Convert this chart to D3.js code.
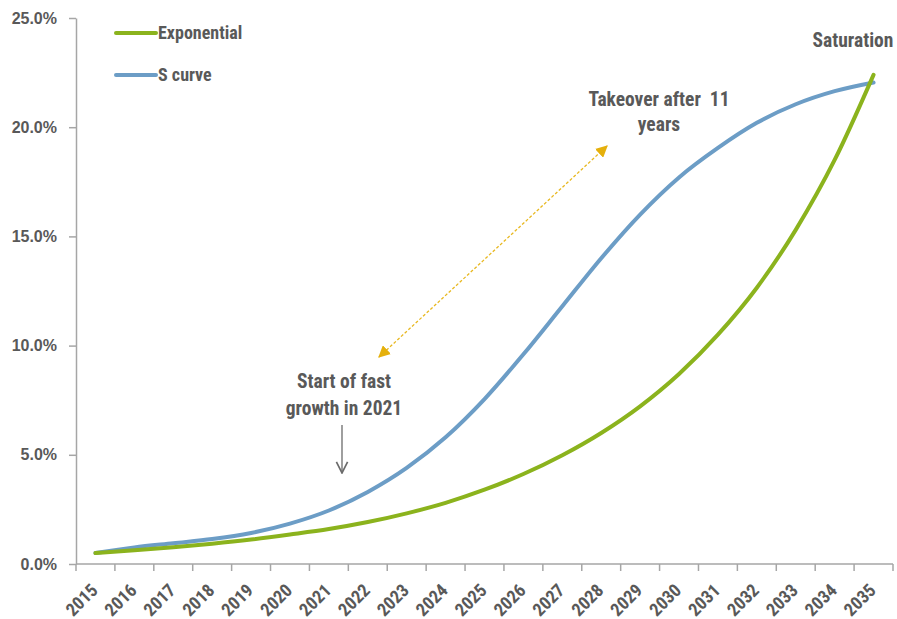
<!DOCTYPE html>
<html>
<head>
<meta charset="utf-8">
<script src="https://cdn.jsdelivr.net/npm/d3@7"></script>
<style>
  html, body { margin: 0; padding: 0; background: #fff; }
  svg { display: block; }
  text { font-family: "Liberation Sans Narrow", "Roboto Condensed", "DejaVu Sans Condensed", sans-serif; font-weight: bold; fill: #595959; }
</style>
</head>
<body>
<svg id="chart" width="897" height="619"></svg>
<script>
// Adoption share by year, two growth scenarios (percent)
const years = ["2015","2016","2017","2018","2019","2020","2021","2022","2023","2024","2025",
               "2026","2027","2028","2029","2030","2031","2032","2033","2034","2035"];
const exponential = [0.5, 0.63, 0.77, 0.93, 1.12, 1.35, 1.6, 1.92, 2.32, 2.8, 3.4,
                     4.12, 4.98, 6.0, 7.22, 8.7, 10.5, 12.65, 15.3, 18.5, 22.4];
const sCurve = [0.5, 0.76, 0.95, 1.14, 1.42, 1.85, 2.45, 3.3, 4.4, 5.8, 7.55,
                9.6, 11.8, 14.0, 16.0, 17.7, 19.05, 20.2, 21.05, 21.65, 22.05];
const yTicks = [0, 5, 10, 15, 20, 25];

const svg = d3.select("#chart");
const plotLeft = 76, plotRight = 893, plotTop = 18, plotBottom = 564;

const x = d3.scaleBand().domain(years).range([plotLeft, plotRight]).paddingInner(0).paddingOuter(0);
const y = d3.scaleLinear().domain([0, 25]).range([plotBottom, plotTop]);
const cx = d => x(d) + x.bandwidth() / 2;

const axisColor = "#a6a6a6";

// Y axis
const yAxis = svg.append("g").attr("transform", `translate(${plotLeft},0)`)
  .call(d3.axisLeft(y).tickValues(yTicks).tickSize(7).tickSizeOuter(0).tickFormat(d => d3.format(".1f")(d) + "%"));
yAxis.select(".domain").attr("stroke", axisColor).attr("stroke-width", 1.5);
yAxis.selectAll(".tick line").attr("stroke", axisColor).attr("stroke-width", 1.5);
yAxis.selectAll(".tick text").attr("x", -19).attr("font-size", 16)
  .style("font-family", "'Liberation Sans Narrow', sans-serif").style("font-weight", "bold").attr("fill", "#595959");

// X axis: ticks between categories
const xAxisG = svg.append("g").attr("transform", `translate(0,${plotBottom})`);
xAxisG.append("line").attr("x1", plotLeft).attr("x2", plotRight).attr("stroke", axisColor).attr("stroke-width", 1.5);
const boundaries = years.map(d => x(d)).concat([plotRight]);
xAxisG.selectAll("line.tk").data(boundaries).join("line").attr("class", "tk")
  .attr("x1", d => d).attr("x2", d => d).attr("y1", 0).attr("y2", 7)
  .attr("stroke", axisColor).attr("stroke-width", 1.5);
xAxisG.selectAll("text").data(years).join("text")
  .attr("transform", d => `translate(${cx(d) - 1},${23}) rotate(-45)`)
  .attr("text-anchor", "end").attr("dy", "0.35em")
  .attr("font-size", 18).text(d => d);

// Series lines (smoothed)
const line = vals => d3.line().x((d, i) => cx(years[i])).y(d => y(d)).curve(d3.curveMonotoneX)(vals);
const green = "#8bb31d", blue = "#6c9dc6";
svg.append("path").attr("d", line(sCurve)).attr("fill", "none").attr("stroke", blue).attr("stroke-width", 4).attr("stroke-linecap", "round");
svg.append("path").attr("d", line(exponential)).attr("fill", "none").attr("stroke", green).attr("stroke-width", 4).attr("stroke-linecap", "round");

// Legend
const legend = [{name: "Exponential", color: green, y: 33}, {name: "S curve", color: blue, y: 75}];
legend.forEach(l => {
  svg.append("line").attr("x1", 116).attr("x2", 156).attr("y1", l.y).attr("y2", l.y)
    .attr("stroke", l.color).attr("stroke-width", 4).attr("stroke-linecap", "round");
  svg.append("text").attr("x", 158).attr("y", l.y).attr("dy", "0.35em").attr("font-size", 18).text(l.name);
});

// Annotations
const defs = svg.append("defs");
defs.append("marker").attr("id", "goldHead").attr("viewBox", "0 0 10 10").attr("refX", 9).attr("refY", 5)
  .attr("markerUnits", "userSpaceOnUse").attr("markerWidth", 12).attr("markerHeight", 12).attr("orient", "auto-start-reverse")
  .append("path").attr("d", "M0,0 L10,5 L0,10 Z").attr("fill", "#e5b00c");
defs.append("marker").attr("id", "greyHead").attr("viewBox", "0 0 10 10").attr("refX", 9).attr("refY", 5)
  .attr("markerUnits", "userSpaceOnUse").attr("markerWidth", 14).attr("markerHeight", 14).attr("orient", "auto")
  .append("path").attr("d", "M1,1 L9,5 L1,9").attr("fill", "none").attr("stroke", "#6b6b6b").attr("stroke-width", 1.2);

svg.append("line").attr("x1", 379).attr("y1", 357).attr("x2", 607).attr("y2", 146)
  .attr("stroke", "#e8b820").attr("stroke-width", 1.3).attr("stroke-dasharray", "3,2")
  .attr("marker-start", "url(#goldHead)").attr("marker-end", "url(#goldHead)");

svg.append("line").attr("x1", 342).attr("y1", 425).attr("x2", 342).attr("y2", 473)
  .attr("stroke", "#6b6b6b").attr("stroke-width", 1.3).attr("marker-end", "url(#greyHead)");

const notes = [
  {t: "Start of fast", x: 344, y: 381},
  {t: "growth in 2021", x: 344, y: 408},
  {t: "Takeover after  11", x: 659, y: 99},
  {t: "years", x: 659, y: 124},
  {t: "Saturation", x: 853, y: 40}
];
svg.selectAll("text.note").data(notes).join("text").attr("class", "note")
  .attr("x", d => d.x).attr("y", d => d.y).attr("dy", "0.35em").attr("text-anchor", "middle")
  .attr("font-size", 19.5).style("white-space", "pre").text(d => d.t);
</script>
</body>
</html>
